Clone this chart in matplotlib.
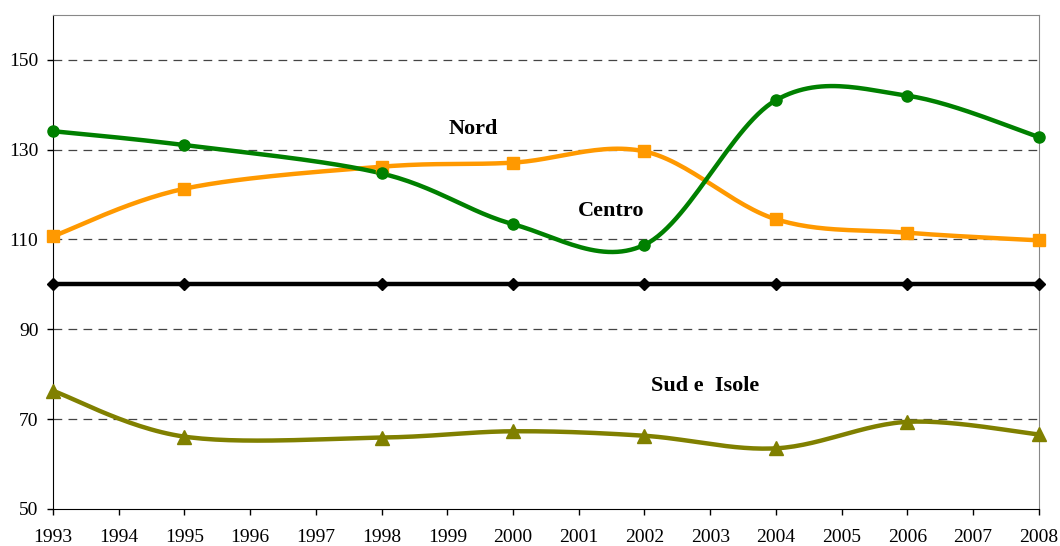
import numpy as np
import matplotlib
matplotlib.use('Agg')
import matplotlib.pyplot as plt

years = [1993, 1995, 1998, 2000, 2002, 2004, 2006, 2008]
nord = [110.7, 121.3, 126.2, 127.1, 129.6, 114.5, 111.5, 109.8]
centro = [134.1, 131.0, 124.7, 113.4, 108.8, 141.0, 142.0, 132.8]
italia = [100, 100, 100, 100, 100, 100, 100, 100]
sud = [76.3, 66.1, 65.9, 67.3, 66.3, 63.5, 69.4, 66.6]
tick_years = list(range(1993, 2009))
yticks = [50, 70, 90, 110, 130, 150]


def smooth(x, y, n=30):
    # Excel-style smoothed line: cubic bezier, control points from neighbours / 6
    p = np.column_stack([x, y]).astype(float)
    out = [p[0]]
    for i in range(len(p) - 1):
        p0 = p[i - 1] if i > 0 else p[i]
        p3 = p[i + 2] if i + 2 < len(p) else p[i + 1]
        c1 = p[i] + (p[i + 1] - p0) / 6
        c2 = p[i + 1] - (p3 - p[i]) / 6
        t = np.linspace(0, 1, n)[1:, None]
        seg = ((1 - t) ** 3) * p[i] + 3 * ((1 - t) ** 2) * t * c1 + 3 * (1 - t) * t ** 2 * c2 + t ** 3 * p[i + 1]
        out.extend(seg)
    out = np.array(out)
    return out[:, 0], out[:, 1]


plt.rcParams['font.family'] = ['Liberation Serif', 'DejaVu Serif']
fig = plt.figure(figsize=(10.6, 5.46), dpi=100)
ax = fig.add_axes([0.05, 0.0678, 0.93, 0.905])

for v in yticks[1:]:
    ax.axhline(v, color='#444444', lw=0.9, ls=(0, (7, 5)), zorder=1)

series = [
    (nord, '#FF9900', 's', 8.5),
    (centro, '#008000', 'o', 8),
    (italia, 'black', 'D', 6.5),
    (sud, '#808000', '^', 9.5),
]
for vals, col, mk, ms in series:
    sx, sy = smooth(years, vals)
    ax.plot(sx, sy, color=col, lw=3.2, zorder=3, solid_capstyle='round')
    ax.plot(years, vals, ls='none', marker=mk, color=col, ms=ms, zorder=4, clip_on=False)

ax.text(1999.39, 134.7, 'Nord', fontsize=16, fontweight='bold', ha='center', va='center')
ax.text(2001.5, 116.3, 'Centro', fontsize=16, fontweight='bold', ha='center', va='center')
ax.text(2002.93, 77.4, 'Sud e  Isole', fontsize=16, fontweight='bold', ha='center', va='center')

ax.set_xlim(1993, 2008)
ax.set_ylim(50, 160)
ax.set_xticks(tick_years)
ax.set_xticklabels([str(y) for y in tick_years])
ax.set_yticks(yticks)
ax.tick_params(labelsize=14, direction='out', length=4.5, width=1)
ax.tick_params(axis='x', pad=10)
ax.tick_params(axis='y', pad=6)
ax.spines['top'].set_color('#888888')
ax.spines['right'].set_color('#888888')

fig.savefig('out.png', dpi=100)
